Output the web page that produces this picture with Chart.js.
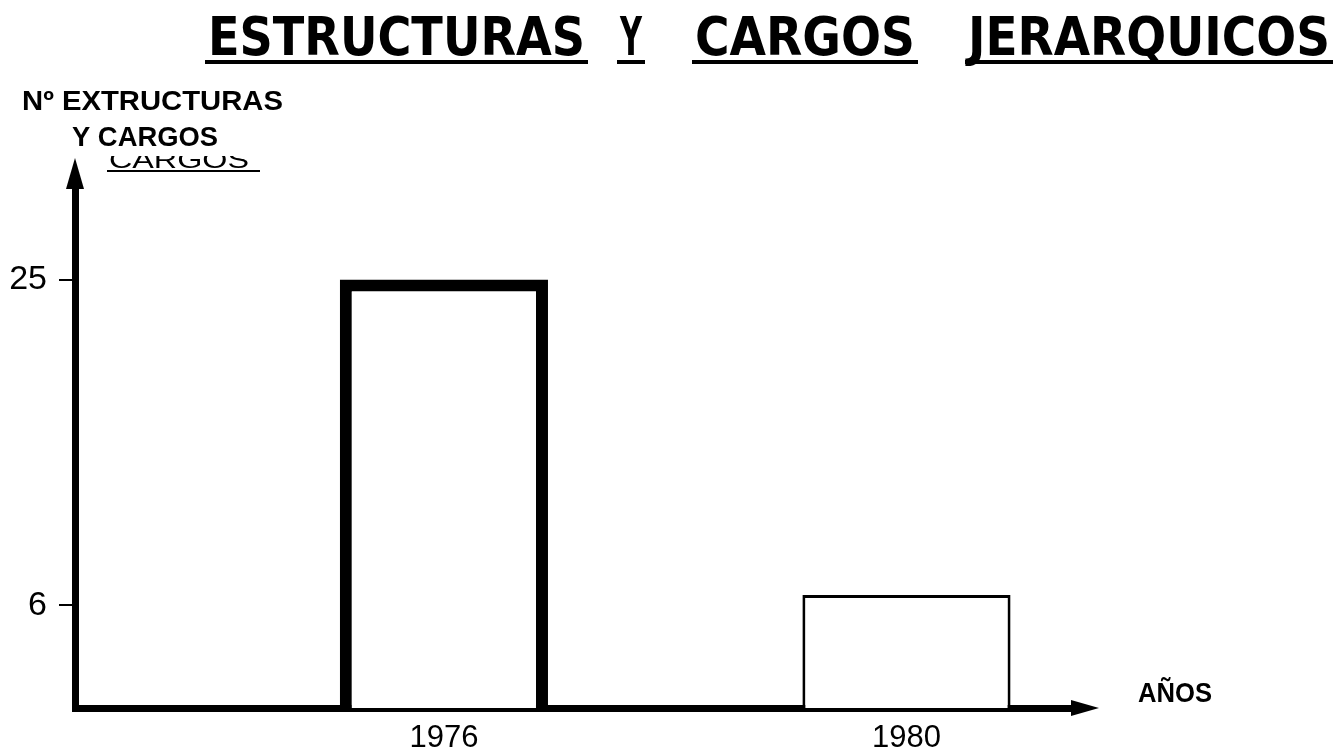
<!DOCTYPE html>
<html>
<head>
<meta charset="utf-8">
<script src="https://cdn.jsdelivr.net/npm/chart.js@4.4.1/dist/chart.umd.min.js"></script>
<style>
  html, body { margin: 0; padding: 0; background: #fff; }
  #chart { display: block; }
</style>
</head>
<body>
<canvas id="chart" width="1337" height="752"></canvas>
<script>
// data
const years = [1976, 1980];
const counts = [25, 6.6];
const yTickValues = [6, 25];
const barBorders = [12, 3];

const titleWords = ['ESTRUCTURAS', 'Y', 'CARGOS', 'JERARQUICOS'];

// draws a word stretched to a given width
function drawWord(ctx, text, x, y, w) {
  const m = ctx.measureText(text).width;
  ctx.save();
  ctx.translate(x, y);
  ctx.scale(w / m, 1);
  ctx.fillText(text, 0, 0);
  ctx.restore();
}

const decorations = {
  id: 'decorations',
  afterDraw(chart) {
    const ctx = chart.ctx;
    const area = chart.chartArea;
    ctx.save();
    ctx.fillStyle = '#000';
    ctx.strokeStyle = '#000';

    // title, each word underlined
    ctx.font = 'bold 54px "DejaVu Sans Condensed", "Liberation Sans Narrow", sans-serif';
    ctx.textBaseline = 'alphabetic';
    const wx = [208, 620, 695, 968];
    const ww = [377, 22, 220, 362];
    titleWords.forEach((t, i) => {
      drawWord(ctx, t, wx[i], 55, ww[i]);
      ctx.fillRect(wx[i] - 3, 60, ww[i] + 6, 4);
    });

    // y axis title
    ctx.font = 'bold 28px "Liberation Sans", Arial, sans-serif';
    drawWord(ctx, 'Nº EXTRUCTURAS', 22, 110, 261);
    drawWord(ctx, 'Y CARGOS', 72, 146, 146);

    // half cut-off duplicate label
    ctx.save();
    ctx.beginPath();
    ctx.rect(100, 156, 170, 20);
    ctx.clip();
    ctx.font = '24px "Liberation Sans", Arial, sans-serif';
    drawWord(ctx, 'CARGOS', 109, 168, 140);
    ctx.restore();
    ctx.fillRect(107, 170, 153, 2);

    // x axis title
    ctx.font = 'bold 28px "Liberation Sans", Arial, sans-serif';
    drawWord(ctx, 'AÑOS', 1138, 702, 74);

    // arrow heads
    ctx.beginPath();
    ctx.moveTo(area.left - 9, area.top + 2);
    ctx.lineTo(area.left, area.top - 29);
    ctx.lineTo(area.left + 9, area.top + 2);
    ctx.closePath();
    ctx.fill();

    ctx.beginPath();
    ctx.moveTo(area.right - 2, area.bottom - 8);
    ctx.lineTo(area.right + 26, area.bottom);
    ctx.lineTo(area.right - 2, area.bottom + 8);
    ctx.closePath();
    ctx.fill();
    ctx.restore();
  }
};

new Chart(document.getElementById('chart'), {
  type: 'bar',
  data: {
    datasets: [{
      data: years.map((y, i) => ({ x: y, y: counts[i] })),
      backgroundColor: '#ffffff',
      borderColor: '#000000',
      borderWidth: barBorders,
      borderSkipped: 'bottom',
      barPercentage: 0.45,
      categoryPercentage: 1
    }]
  },
  options: {
    responsive: false,
    animation: false,
    layout: { padding: { top: 187, right: 264, left: 0, bottom: 0 } },
    plugins: {
      legend: { display: false },
      tooltip: { enabled: false }
    },
    scales: {
      x: {
        type: 'linear',
        offset: false,
        min: 1972.81,
        max: 1981.44,
        afterBuildTicks: s => { s.ticks = years.map(v => ({ value: v })); },
        afterFit: s => { s.height = 44; },
        grid: { display: false, drawTicks: false, offset: false },
        border: { display: true, color: '#000', width: 7 },
        ticks: {
          color: '#000',
          padding: 12,
          font: { family: '"Liberation Sans", Arial, sans-serif', size: 31 },
          callback: v => String(v)
        }
      },
      y: {
        min: 0,
        max: 30.4,
        afterBuildTicks: s => { s.ticks = yTickValues.map(v => ({ value: v })); },
        afterFit: s => { s.width = 75; },
        grid: {
          drawOnChartArea: false,
          drawTicks: true,
          tickLength: 16,
          color: '#000',
          lineWidth: 2
        },
        border: { display: true, color: '#000', width: 7 },
        ticks: {
          color: '#000',
          padding: 12,
          font: { family: '"Liberation Sans", Arial, sans-serif', size: 34 }
        }
      }
    }
  },
  plugins: [decorations]
});
</script>
</body>
</html>
